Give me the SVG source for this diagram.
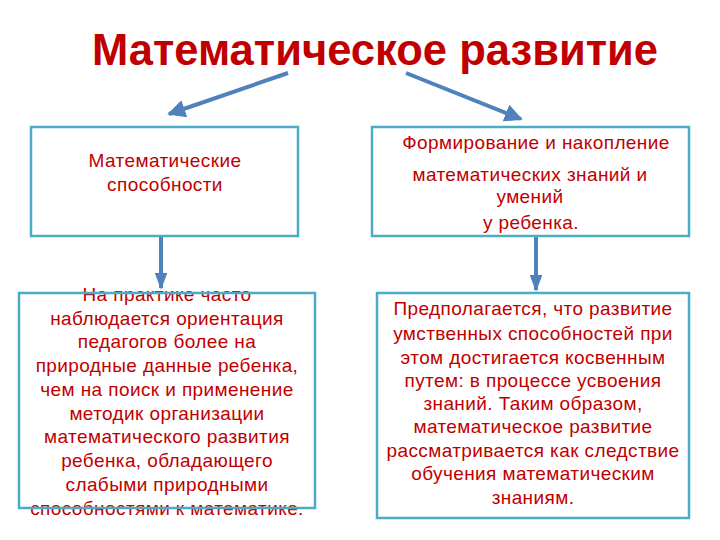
<svg xmlns="http://www.w3.org/2000/svg" width="720" height="540" viewBox="0 0 720 540">
<defs>
<style>
.t{font-family:"Liberation Sans",Arial,sans-serif;fill:#C00000;text-anchor:middle;font-size:19px;letter-spacing:0.4px}
.title{font-family:"Liberation Sans",Arial,sans-serif;fill:#C00000;text-anchor:middle;font-weight:bold;font-size:44px}
.box{fill:none;stroke:#4BACC6;stroke-width:2.5}
.con{stroke:#4F81BD;stroke-width:4;fill:none}
</style>
<marker id="ah" viewBox="0 0 10 10" refX="9" refY="5" markerWidth="4.5" markerHeight="4.5" orient="auto" markerUnits="strokeWidth">
<path d="M0,0 L10,5 L0,10 z" fill="#4F81BD"/>
</marker>
<marker id="ahv" viewBox="0 0 10 10" refX="9" refY="5" markerWidth="4.25" markerHeight="3.2" orient="auto" markerUnits="strokeWidth" preserveAspectRatio="none">
<path d="M0,0 L10,5 L0,10 z" fill="#4F81BD"/>
</marker>
</defs>
<rect width="720" height="540" fill="#fff"/>
<g id="title">
<text class="title" x="375" y="65" textLength="566" lengthAdjust="spacingAndGlyphs">Математическое развитие</text>
</g>
<g id="connectors">
<line class="con" x1="288" y1="73" x2="169" y2="114" marker-end="url(#ah)" stroke-width="3.5"/>
<line class="con" x1="406" y1="73" x2="521" y2="119" marker-end="url(#ah)" stroke-width="3.5"/>
<line class="con" x1="161" y1="237" x2="161" y2="288" marker-end="url(#ahv)"/>
<line class="con" x1="536" y1="237" x2="536" y2="290" marker-end="url(#ahv)"/>
</g>
<g id="node1">
<rect class="box" x="31" y="127" width="267" height="109"/>
<text class="t" x="165" y="167">Математические</text>
<text class="t" x="165" y="191">способности</text>
</g>
<g id="node2">
<rect class="box" x="372" y="127" width="317" height="109"/>
<text class="t" x="536" y="149">Формирование и накопление</text>
<text class="t" x="530" y="181">математических знаний и</text>
<text class="t" x="530" y="203">умений</text>
<text class="t" x="531" y="229">у ребенка.</text>
</g>
<g id="node3">
<text class="t" x="167" y="301">На практике часто</text>
<text class="t" x="167" y="325">наблюдается ориентация</text>
<text class="t" x="167" y="348">педагогов более на</text>
<text class="t" x="167" y="372">природные данные ребенка,</text>
<text class="t" x="167" y="396">чем на поиск и применение</text>
<text class="t" x="167" y="420">методик организации</text>
<text class="t" x="167" y="443">математического развития</text>
<text class="t" x="167" y="467">ребенка, обладающего</text>
<text class="t" x="167" y="491">слабыми природными</text>
<text class="t" x="167" y="515">способностями к математике.</text>
<rect class="box" x="19" y="293" width="296" height="215"/>
</g>
<g id="node4">
<rect class="box" x="377" y="293" width="312" height="225"/>
<text class="t" x="533" y="315">Предполагается, что развитие</text>
<text class="t" x="533" y="340">умственных способностей при</text>
<text class="t" x="533" y="364">этом достигается косвенным</text>
<text class="t" x="533" y="387">путем: в процессе усвоения</text>
<text class="t" x="533" y="410">знаний. Таким образом,</text>
<text class="t" x="533" y="433">математическое развитие</text>
<text class="t" x="533" y="457">рассматривается как следствие</text>
<text class="t" x="533" y="480">обучения математическим</text>
<text class="t" x="533" y="504">знаниям.</text>
</g>
</svg>
